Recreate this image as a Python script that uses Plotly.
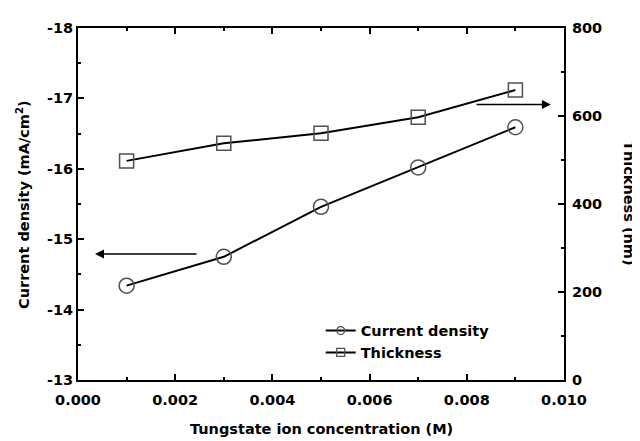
import plotly.graph_objects as go

conc = [0.001, 0.003, 0.005, 0.007, 0.009]
current_density = [-14.34, -14.75, -15.46, -16.02, -16.59]
thickness = [498, 538, 561, 597, 659]

x_ticks = [0.000, 0.002, 0.004, 0.006, 0.008, 0.010]
x_ticktext = ["0.000", "0.002", "0.004", "0.006", "0.008", "0.010"]
y_left_ticks = [-18, -17, -16, -15, -14, -13]
y_left_ticktext = ["-18", "-17", "-16", "-15", "-14", "-13"]
y_right_ticks = [0, 200, 400, 600, 800]
y_right_ticktext = ["0", "200", "400", "600", "800"]

FONT = "DejaVu Sans"
FS = 14.5
MARKER_COLOR = "#505050"

fig = go.Figure()
fig.add_trace(go.Scatter(
    x=conc, y=current_density, name="Current density", mode="lines+markers",
    line=dict(color="black", width=2), showlegend=False,
    marker=dict(symbol="circle-open", size=15, color=MARKER_COLOR, line=dict(width=1.5)),
    yaxis="y"))
fig.add_trace(go.Scatter(
    x=conc, y=thickness, name="Thickness", mode="lines+markers",
    line=dict(color="black", width=2), showlegend=False,
    marker=dict(symbol="square-open", size=14, color=MARKER_COLOR, line=dict(width=1.5)),
    yaxis="y2"))
# legend entries (smaller symbols like the reference legend)
fig.add_trace(go.Scatter(
    x=[None], y=[None], name="Current density", mode="lines+markers",
    line=dict(color="black", width=2),
    marker=dict(symbol="circle-open", size=8, color=MARKER_COLOR, line=dict(width=1.2)),
    yaxis="y"))
fig.add_trace(go.Scatter(
    x=[None], y=[None], name="Thickness", mode="lines+markers",
    line=dict(color="black", width=2),
    marker=dict(symbol="square-open", size=8, color=MARKER_COLOR, line=dict(width=1.2)),
    yaxis="y2"))

def axis_common():
    return dict(showline=True, linecolor="black", linewidth=2, ticks="inside",
                tickwidth=2, ticklen=6, tickcolor="black", showgrid=False,
                zeroline=False,
                tickfont=dict(family=FONT, size=FS, color="black", weight="bold"))

# the page body has an 8px margin, so the figure is sized/offset to compensate
fig.update_layout(
    width=632, height=433,
    margin=dict(l=70, r=76, t=14, b=61),
    plot_bgcolor="white", paper_bgcolor="white",
    font=dict(family=FONT, color="black"),
    showlegend=True,
    legend=dict(x=0.4994, y=0.1857, xanchor="left", yanchor="top",
                bgcolor="rgba(0,0,0,0)",
                font=dict(family=FONT, size=FS, color="black", weight="bold"),
                itemsizing="trace", tracegroupgap=0),
    xaxis=dict(range=[0, 0.010], tickvals=x_ticks, ticktext=x_ticktext, mirror="ticks",
               ticklabelstandoff=6,
               minor=dict(dtick=0.001, ticks="inside", ticklen=3, tickwidth=2, tickcolor="black"),
               **axis_common()),
    yaxis=dict(range=[-13, -18], tickvals=y_left_ticks, ticktext=y_left_ticktext,
               minor=dict(dtick=0.5, ticks="inside", ticklen=3, tickwidth=2, tickcolor="black"),
               **axis_common()),
    yaxis2=dict(range=[0, 800], tickvals=y_right_ticks, ticktext=y_right_ticktext,
                overlaying="y", side="right", ticklabelstandoff=3,
                minor=dict(dtick=100, ticks="inside", ticklen=3, tickwidth=2, tickcolor="black"),
                **axis_common()),
)

title_font = dict(family=FONT, size=FS, color="black", weight="bold")
# axis titles
fig.add_annotation(text="Tungstate ion concentration (M)", x=0.5, y=-0.14,
                   xref="paper", yref="paper", showarrow=False, xanchor="center",
                   yanchor="middle", font=title_font, borderpad=0)
fig.add_annotation(text="Current density (mA/cm<sup>2</sup>)", textangle=-90,
                   x=-0.1132, y=0.5, xref="paper", yref="paper", showarrow=False,
                   xanchor="center", yanchor="middle", font=title_font, borderpad=0)
fig.add_annotation(text="Thickness (nm)", textangle=90, x=1.1337, y=0.5,
                   xref="paper", yref="paper", showarrow=False,
                   xanchor="center", yanchor="middle", font=title_font, borderpad=0)

# arrows indicating axes
fig.add_annotation(x=0.00035, y=-14.79, ax=0.00247, ay=-14.79, xref="x", yref="y",
                   axref="x", ayref="y", showarrow=True, arrowhead=2, arrowsize=1.2,
                   arrowwidth=1.5, arrowcolor="black", text="")
fig.add_annotation(x=0.00973, y=626, ax=0.00817, ay=626, xref="x", yref="y2",
                   axref="x", ayref="y2", showarrow=True, arrowhead=2, arrowsize=1.2,
                   arrowwidth=1.5, arrowcolor="black", text="")

fig.write_html("out.html")
